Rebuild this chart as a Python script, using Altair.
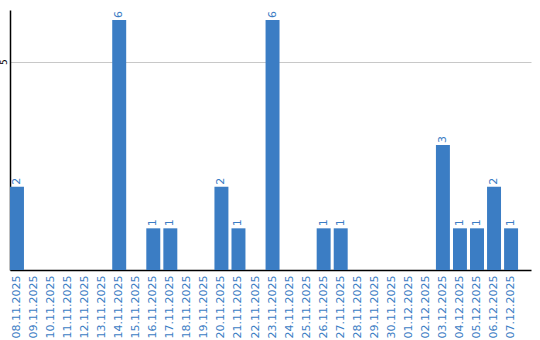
import altair as alt
import pandas as pd

dates = ["08.11.2025", "09.11.2025", "10.11.2025", "11.11.2025", "12.11.2025",
         "13.11.2025", "14.11.2025", "15.11.2025", "16.11.2025", "17.11.2025",
         "18.11.2025", "19.11.2025", "20.11.2025", "21.11.2025", "22.11.2025",
         "23.11.2025", "24.11.2025", "25.11.2025", "26.11.2025", "27.11.2025",
         "28.11.2025", "29.11.2025", "30.11.2025", "01.12.2025", "02.12.2025",
         "03.12.2025", "04.12.2025", "05.12.2025", "06.12.2025", "07.12.2025"]
counts = [2, 0, 0, 0, 0, 0, 6, 0, 1, 1, 0, 0, 2, 1, 0, 6, 0, 0, 1, 1,
          0, 0, 0, 0, 0, 3, 1, 1, 2, 1]
y_ticks = [5]

df = pd.DataFrame({"date": dates, "count": counts})
df["label"] = df["count"].apply(lambda v: str(v) if v > 0 else "")

BLUE = "#3b7dc4"
FONT = "DejaVu Sans"

x = alt.X("date:N", sort=dates,
          scale=alt.Scale(paddingInner=0.18, paddingOuter=0.38, align=0),
          axis=alt.Axis(title=None, labelAngle=270, labelAlign="right",
                        labelBaseline="middle", labelColor=BLUE, labelFont=FONT,
                        labelFontSize=11, ticks=False, labelPadding=5,
                        domainColor="#000000", domainWidth=1.5, grid=False))
y = alt.Y("count:Q", scale=alt.Scale(domain=[0, 6.24], nice=False),
          axis=alt.Axis(title=None, values=y_ticks, labelAngle=270,
                        labelAlign="center", labelBaseline="bottom",
                        labelFont=FONT, labelFontSize=9, labelColor="#000000",
                        ticks=False, labelPadding=2, domainColor="#000000",
                        domainWidth=1.5, grid=True, gridColor="#c8c8c8"))

bars = alt.Chart(df).mark_bar(color=BLUE).encode(x=x, y=y)
text = alt.Chart(df).mark_text(angle=270, align="left", baseline="middle",
                               dx=2, color=BLUE, font=FONT, fontSize=11).encode(
    x=alt.X("date:N", sort=dates), y="count:Q", text="label:N")

chart = (bars + text).properties(
    width=521, height=260,
    autosize=alt.AutoSizeParams(type="none"),
    padding={"left": 10, "top": 10, "right": 9, "bottom": 70},
).configure_view(stroke=None)

chart.save("out.html", embed_options={"renderer": "svg", "actions": False})
